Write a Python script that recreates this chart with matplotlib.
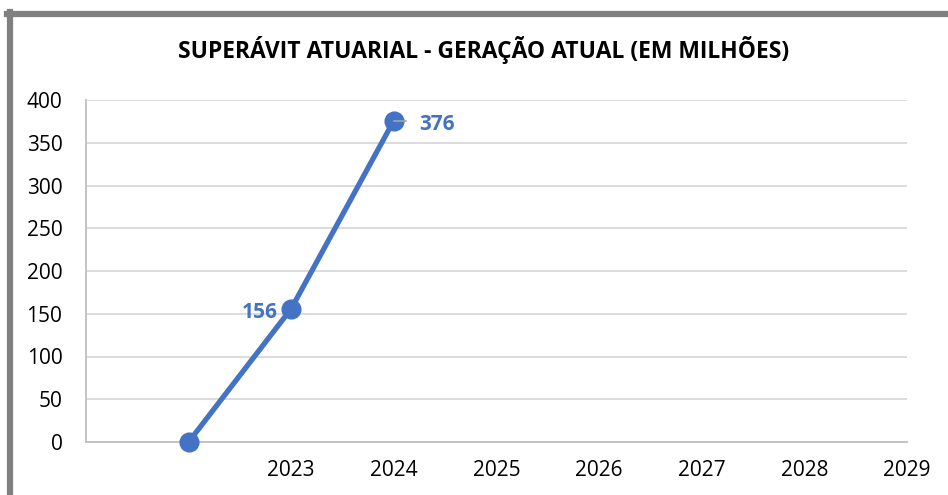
import matplotlib
matplotlib.use("Agg")
import matplotlib.pyplot as plt
from matplotlib.lines import Line2D
import numpy as np

categories = ["", "", "2023", "2024", "2025", "2026", "2027", "2028", "2029"]
values = [None, 0, 156, 376, None, None, None, None, None]
title = "SUPERÁVIT ATUARIAL - GERAÇÃO ATUAL (EM MILHÕES)"
yticks = [0, 50, 100, 150, 200, 250, 300, 350, 400]

plt.rcParams['font.family'] = ['Open Sans', 'DejaVu Sans']
W, H = 948, 495
fig = plt.figure(figsize=(W/100, H/100), dpi=100)
ax = fig.add_axes([86/W, 1-442/H, (907-86)/W, (442-100)/H])

xs = [i for i, v in enumerate(values) if v is not None]
ys = [v for v in values if v is not None]
blue = "#4472C4"
ax.plot(xs, ys, color=blue, lw=3.8, marker='o', ms=13.5, solid_capstyle='round',
        zorder=3, clip_on=False)

ax.set_xlim(0, len(categories)-1)
ax.set_ylim(0, 400)
ax.set_yticks(yticks)
ax.set_xticks(range(len(categories)))
ax.set_xticklabels(categories)
ax.tick_params(axis='both', length=0, labelsize=15, colors='black')
ax.tick_params(axis='y', pad=17)
ax.tick_params(axis='x', pad=13)
ax.grid(axis='y', color='#d9d9d9', lw=1.3)
ax.set_axisbelow(True)
for s in ['top', 'right']:
    ax.spines[s].set_visible(False)
for s in ['left', 'bottom']:
    ax.spines[s].set_color('#bfbfbf')
    ax.spines[s].set_linewidth(1.3)

# data labels
for x, y in zip(xs, ys):
    if y == 0:
        continue
    if x == 3:
        ax.plot([x, x+0.12], [y, y], color='#a6a6a6', lw=1.2, zorder=4)
        ax.annotate(str(y), (x, y), xytext=(18, -3), textcoords='offset points',
                    ha='left', va='center', color=blue, fontsize=15, fontweight='bold')
    else:
        ax.annotate(str(y), (x, y), xytext=(-10, -3), textcoords='offset points',
                    ha='right', va='center', color=blue, fontsize=15, fontweight='bold')

fig.text(484/W, 1-50/H, title, ha='center', va='center', fontsize=16.5, fontweight='bold')

# outer frame (gray)
fig.add_artist(Line2D([7/W, 1], [1-14/H, 1-14/H], color='#808080', lw=4.5, transform=fig.transFigure))
fig.add_artist(Line2D([9.5/W, 9.5/W], [0, 1-12/H], color='#808080', lw=4.5, transform=fig.transFigure))

fig.savefig("out.png", dpi=100)
